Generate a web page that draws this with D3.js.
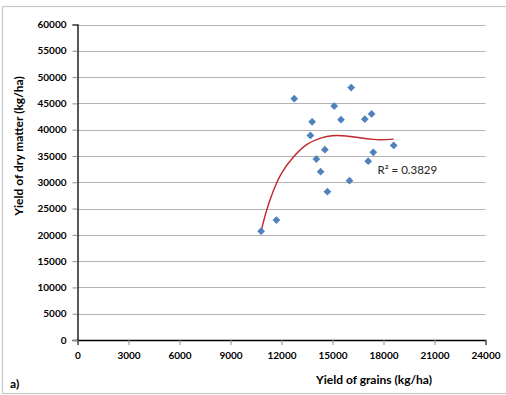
<!DOCTYPE html>
<html>
<head>
<meta charset="utf-8">
<script src="https://cdn.jsdelivr.net/npm/d3@7/dist/d3.min.js"></script>
<style>
  html, body { margin: 0; padding: 0; background: #fff; }
  svg { display: block; }
  text { font-family: Lato, "Open Sans", "Liberation Sans", sans-serif; }
</style>
</head>
<body>
<svg id="chart" width="506" height="395"></svg>
<script>
// Scatter data: yield of grains (kg/ha) vs yield of dry matter (kg/ha)
const grains = [10800, 11700, 12750, 13800, 13700, 14050, 14300, 14550, 14700,
                15100, 15500, 16000, 16100, 16900, 17100, 17300, 17400, 18600];
const dryMatter = [20700, 22800, 45900, 41500, 38900, 34400, 32000, 36200, 28200,
                   44500, 41900, 30300, 48000, 42000, 34000, 43000, 35700, 37000];

// Polynomial trendline
const trendX = [10800, 11100, 11500, 12000, 12700, 13500, 14300, 15000, 15800, 16600, 17400, 18000, 18600];
const trendY = [20700, 24400, 28200, 31700, 34800, 37200, 38400, 38850, 38800, 38450, 38150, 38100, 38200];

const xTicks = [0, 3000, 6000, 9000, 12000, 15000, 18000, 21000, 24000];
const yTicks = [0, 5000, 10000, 15000, 20000, 25000, 30000, 35000, 40000, 45000, 50000, 55000, 60000];

const xTitle = "Yield of grains (kg/ha)";
const yTitle = "Yield of dry matter (kg/ha)";
const panelLabel = "a)";
const r2Label = "R\u00B2 = 0.3829";
const r2Pos = [17650, 31600];

(function () {
const svg = d3.select("#chart");
const mLeft = 77.5, mRight = 485.5, mTop = 24.5, mBottom = 340;

const x = d3.scaleLinear().domain([0, 24000]).range([mLeft, mRight]);
const y = d3.scaleLinear().domain([0, 60000]).range([mBottom, mTop]);

// outer frame
svg.append("rect").attr("x", 2.5).attr("y", 6.5).attr("width", 520).attr("height", 387)
  .attr("fill", "none").attr("stroke", "#c8c8c8").attr("stroke-width", 1.2);

// gridlines
svg.append("g").selectAll("line").data(yTicks.filter(d => d > 0)).join("line")
  .attr("x1", mLeft).attr("x2", mRight)
  .attr("y1", d => Math.round(y(d)) + 0.5).attr("y2", d => Math.round(y(d)) + 0.5)
  .attr("stroke", "#b3b3b3").attr("stroke-width", 1);

// y axis
const yAxis = svg.append("g").attr("transform", `translate(${mLeft},0)`)
  .call(d3.axisLeft(y).tickValues(yTicks).tickSize(5).tickPadding(6).tickFormat(d3.format("d")));
yAxis.select(".domain").attr("stroke", "#000").attr("stroke-width", 1.3);
yAxis.selectAll(".tick line").attr("stroke", "#8c8c8c");
yAxis.selectAll(".tick text").attr("font-size", 10).attr("font-weight", "bold")
  .attr("fill", "#000").style("font-family", "Lato, 'Open Sans', sans-serif");

// x axis
const xAxis = svg.append("g").attr("transform", `translate(0,${mBottom})`)
  .call(d3.axisBottom(x).tickValues(xTicks).tickSize(5).tickPadding(7).tickFormat(d3.format("d")));
xAxis.select(".domain").attr("stroke", "#000").attr("stroke-width", 1.3);
xAxis.selectAll(".tick line").attr("stroke", "#8c8c8c");
xAxis.selectAll(".tick text").attr("font-size", 10).attr("font-weight", "bold")
  .attr("fill", "#000").style("font-family", "Lato, 'Open Sans', sans-serif");

// trendline
const line = d3.line().x(d => x(d[0])).y(d => y(d[1])).curve(d3.curveNatural);
svg.append("path").datum(trendX.map((v, i) => [v, trendY[i]]))
  .attr("d", line).attr("fill", "none").attr("stroke", "#c0272d").attr("stroke-width", 1.4);

// markers (diamonds)
const diamond = d3.symbol(d3.symbolSquare, 30)();
svg.append("g").selectAll("path").data(grains.map((v, i) => [v, dryMatter[i]])).join("path")
  .attr("d", diamond)
  .attr("transform", d => `translate(${x(d[0])},${y(d[1])}) rotate(45)`)
  .attr("fill", "#4f81bd");

// R² label
svg.append("text").attr("x", x(r2Pos[0])).attr("y", y(r2Pos[1]))
  .attr("font-size", 11.5).attr("fill", "#222").text(r2Label);

// axis titles
svg.append("text").attr("transform", `translate(23,146) rotate(-90)`)
  .attr("text-anchor", "middle").attr("font-size", 12).attr("font-weight", "bold")
  .attr("fill", "#000").text(yTitle);
svg.append("text").attr("x", 374).attr("y", 384)
  .attr("text-anchor", "middle").attr("font-size", 12).attr("font-weight", "bold")
  .attr("fill", "#000").text(xTitle);
svg.append("text").attr("x", 10).attr("y", 388)
  .attr("font-size", 12).attr("font-weight", "bold").attr("fill", "#000").text(panelLabel);
})();
</script>
</body>
</html>
